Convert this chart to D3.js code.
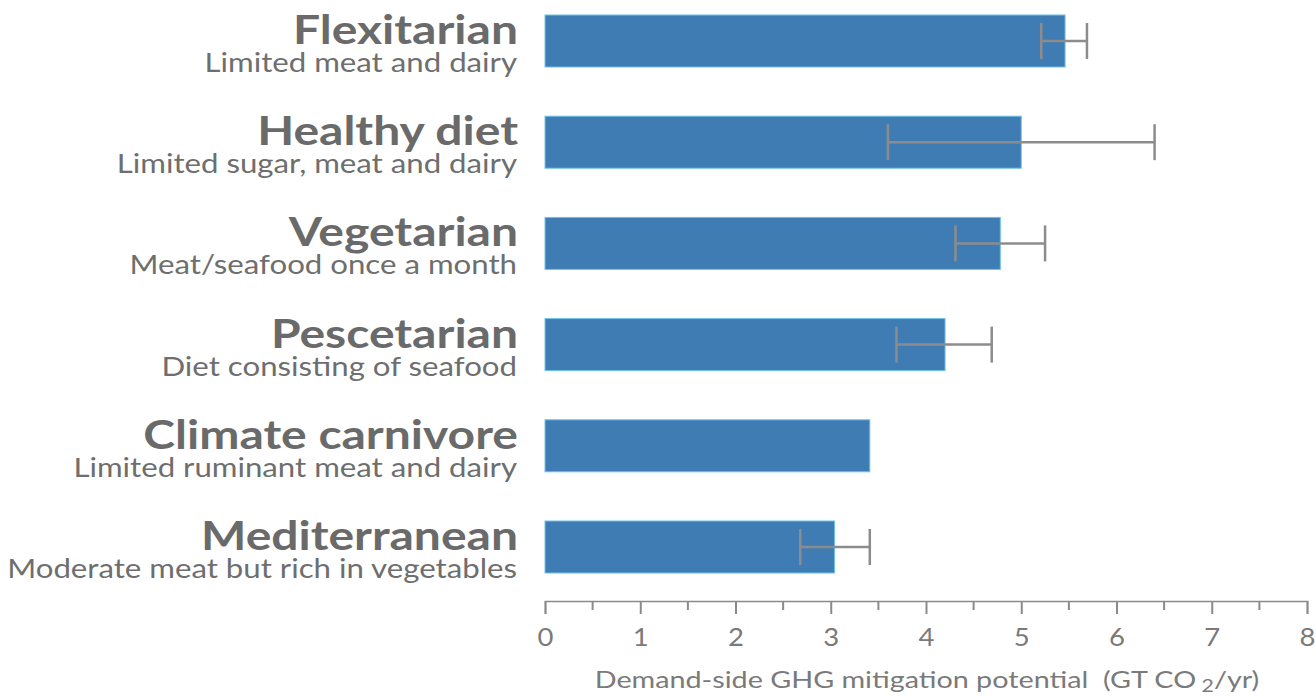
<!DOCTYPE html>
<html>
<head>
<meta charset="utf-8">
<script src="https://cdn.jsdelivr.net/npm/d3@7"></script>
<style>
  body { margin: 0; background: #fff; }
  svg { display: block; font-family: Lato, "Open Sans", sans-serif; }
</style>
</head>
<body>
<svg width="1316" height="698"></svg>
<script>
(function () {
    'use strict';

    // data
    var diets = ['Flexitarian', 'Healthy diet', 'Vegetarian', 'Pescetarian', 'Climate carnivore', 'Mediterranean'];
    var notes = ['Limited meat and dairy', 'Limited sugar, meat and dairy', 'Meat/seafood once a month',
                 'Diet consisting of seafood', 'Limited ruminant meat and dairy', 'Moderate meat but rich in vegetables'];
    var potential = [5.46, 5.0, 4.78, 4.2, 3.41, 3.04];
    var errLow = [5.21, 3.6, 4.31, 3.69, null, 2.68];
    var errHigh = [5.69, 6.4, 5.25, 4.69, null, 3.41];
    var xTicks = [0, 1, 2, 3, 4, 5, 6, 7, 8];
    var xMinor = [0.5, 1.5, 2.5, 3.5, 4.5, 5.5, 6.5, 7.5];

    var svg = d3.select('svg');
    var left = 545, right = 1307;
    var top = 15, rowH = 101.2, barH = 52;
    var axisY = 601;
    var stretch = 1.2; // text in the picture is wider than the font

    var x = d3.scaleLinear().domain([0, 8]).range([left, right]);
    var pad = 1 - barH / rowH;
    var y = d3.scaleBand().domain(diets)
        .range([top, top + rowH * (diets.length - pad)])
        .paddingInner(pad).paddingOuter(0);

    var rows = diets.map(function (d, i) {
        return { name: d, note: notes[i], v: potential[i], lo: errLow[i], hi: errHigh[i] };
    });
    var mid = function (d) { return y(d.name) + y.bandwidth() / 2; };

    // bars
    svg.append('g').selectAll('rect')
        .data(rows).join('rect')
        .attr('x', x(0))
        .attr('y', function (d) { return y(d.name); })
        .attr('width', function (d) { return x(d.v) - x(0); })
        .attr('height', y.bandwidth())
        .attr('fill', '#3f7cb4')
        .attr('stroke', '#6cc3e6')
        .attr('stroke-width', 1);

    // error bars
    var gErr = svg.append('g')
        .attr('stroke', '#8c8c8c')
        .attr('stroke-width', 2.5);
    var withErr = rows.filter(function (d) { return d.lo !== null; });
    var cap = 18;
    gErr.selectAll('line.span')
        .data(withErr).join('line')
        .attr('class', 'span')
        .attr('x1', function (d) { return x(d.lo); })
        .attr('x2', function (d) { return x(d.hi); })
        .attr('y1', mid)
        .attr('y2', mid);
    ['lo', 'hi'].forEach(function (k) {
        gErr.selectAll('line.cap-' + k)
            .data(withErr).join('line')
            .attr('class', 'cap-' + k)
            .attr('x1', function (d) { return x(d[k]); })
            .attr('x2', function (d) { return x(d[k]); })
            .attr('y1', function (d) { return mid(d) - cap; })
            .attr('y2', function (d) { return mid(d) + cap; });
    });

    // category labels
    var gLab = svg.append('g').attr('text-anchor', 'end');
    gLab.selectAll('text.name')
        .data(rows).join('text')
        .attr('class', 'name')
        .attr('transform', function (d) { return 'translate(518,' + (mid(d) + 3) + ') scale(' + stretch + ',1)'; })
        .attr('font-size', 40)
        .attr('font-weight', 700)
        .attr('fill', '#6a6a6a')
        .text(function (d) { return d.name; });
    gLab.selectAll('text.note')
        .data(rows).join('text')
        .attr('class', 'note')
        .attr('transform', function (d) { return 'translate(517,' + (mid(d) + 31) + ') scale(' + stretch + ',1)'; })
        .attr('font-size', 26)
        .attr('fill', '#6e6e6e')
        .text(function (d) { return d.note; });

    // x axis
    var gAxis = svg.append('g')
        .attr('transform', 'translate(0,' + axisY + ')');
    gAxis.call(d3.axisBottom(x).tickValues(xTicks).tickSize(13).tickPadding(0).tickFormat(d3.format('d')));
    gAxis.call(function (g) {
        g.select('.domain').attr('stroke', '#8a8a8a').attr('stroke-width', 1.5);
        g.selectAll('.tick line').attr('stroke', '#8a8a8a').attr('stroke-width', 2);
        g.selectAll('.tick text')
            .attr('y', 0).attr('dy', 0)
            .attr('transform', 'translate(0,45) scale(1.1,1)')
            .attr('font-size', 25)
            .attr('font-family', 'Lato, sans-serif')
            .attr('fill', '#7a7a7a');
    });
    gAxis.selectAll('line.minor')
        .data(xMinor).join('line')
        .attr('class', 'minor')
        .attr('x1', function (d) { return x(d); })
        .attr('x2', function (d) { return x(d); })
        .attr('y1', 0).attr('y2', 9)
        .attr('stroke', '#8a8a8a')
        .attr('stroke-width', 2);

    // axis title
    var title = svg.append('text')
        .attr('transform', 'translate(927,688) scale(1.25,1)')
        .attr('text-anchor', 'middle')
        .attr('font-size', 23)
        .attr('fill', '#7a7a7a');
    title.append('tspan').text('Demand-side GHG mitigation potential\u00a0\u00a0(GT CO');
    title.append('tspan').attr('dy', 4).attr('font-size', 17).text('\u00a02');
    title.append('tspan').attr('dy', -4).text('/yr)');

}());
</script>
</body>
</html>
